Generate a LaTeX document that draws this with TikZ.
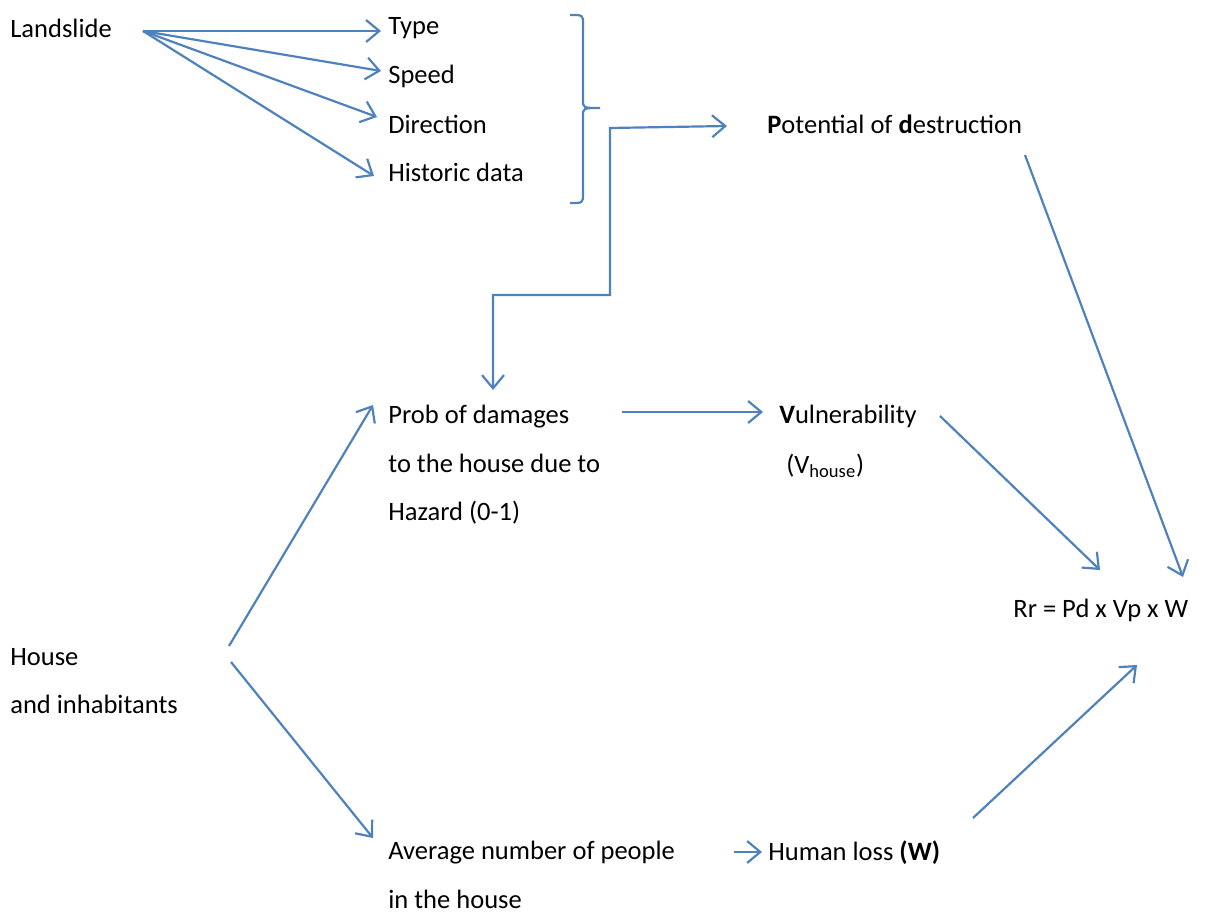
\documentclass[tikz,border=0pt]{standalone}
\usepackage{fontspec}
\setmainfont{Carlito}
\usetikzlibrary{arrows.meta}
\definecolor{linkblue}{HTML}{4F81BD}
\begin{document}
\begin{tikzpicture}[x=0.02cm,y=-0.02cm,
  lbl/.style={anchor=west,inner sep=0pt,font=\fontsize{15.1}{27.5}\selectfont,align=left},
  tip/.tip={Straight Barb[length=7.5pt,width=12.5pt,line width=1.25pt]},
  link/.style={draw=linkblue,line width=1.25pt,-tip},
  bracket/.style={draw=linkblue,line width=1.25pt}]
\useasboundingbox (0,0) rectangle (1211,912);

% hazard side
\node[lbl] (land) at (10,28) {Landslide};
\node[lbl] (type) at (388,28) {Type};
\node[lbl] (speed) at (388,76) {Speed};
\node[lbl] (dir) at (388,124) {Direction};
\node[lbl] (hist) at (388,172) {Historic data};
\node[lbl] (pot) at (767,124) {\textbf{P}otential of \textbf{d}estruction};

% element at risk
\node[lbl,anchor=north west] (prob) at (388,405) {Prob of damages\\to the house due to\\Hazard (0-1)};
\node[lbl] (vul) at (779,416) {\textbf{V}ulnerability};
\node[lbl] (vh) at (786,466) {(V\textsubscript{house})};
\node[lbl] (rr) at (1013,610) {Rr = Pd x Vp x W};
\node[lbl,anchor=north west] (house) at (10,648) {House\\and inhabitants};
\node[lbl,anchor=north west] (avg) at (388,841) {Average number of people\\in the house};
\node[lbl] (loss) at (768,853) {Human loss \textbf{(W)}};

% fan-out from Landslide
\path[link] ([shift={(133,3)}]land.west) -- ([shift={(-7,3)}]type.west);
\path[link] ([shift={(133,3)}]land.west) -- ([shift={(-7,-5)}]speed.west);
\path[link] ([shift={(133,3)}]land.west) -- ([shift={(-11,-7)}]dir.west);
\path[link] ([shift={(133,3)}]land.west) -- ([shift={(-14,4)}]hist.west);

% right brace grouping the four factors
\coordinate (bt) at (570,15);
\coordinate (bm) at (600,108);
\coordinate (bb) at (570,203);
\path[bracket] (bt) .. controls (583,15) .. (583,24) -- (583,100)
  .. controls (583,108) .. (bm)
  .. controls (583,108) .. (583,116) -- (583,194)
  .. controls (583,203) .. (bb);

% stepped connector between Potential and Prob of damages
\path[link,tip-tip]
  ([shift={(105,-15)}]prob.north west) -- ++(0,-95) -| (610,128) -- ([shift={(-40,2)}]pot.west);

\path[link] ([shift={(234,7)}]prob.north west) -- ([shift={(-16,-4)}]vul.west);
\path[link] ([shift={(161,0)}]vul.west) -- ([shift={(87,-40)}]rr.west);
\path[link] ([shift={(258,31)}]pot.west) -- ([shift={(170,-33)}]rr.west);

\path[link] ([shift={(219,-2)}]house.north west) -- ([shift={(-15,0)}]prob.north west);
\path[link] ([shift={(221,14)}]house.north west) -- ([shift={(-15,-3)}]avg.north west);
\path[link] ([shift={(346,11)}]avg.north west) -- ([shift={(-6,-1)}]loss.west);
\path[link] ([shift={(205,-35)}]loss.west) -- ([shift={(124,55)}]rr.west);
\end{tikzpicture}
\end{document}
